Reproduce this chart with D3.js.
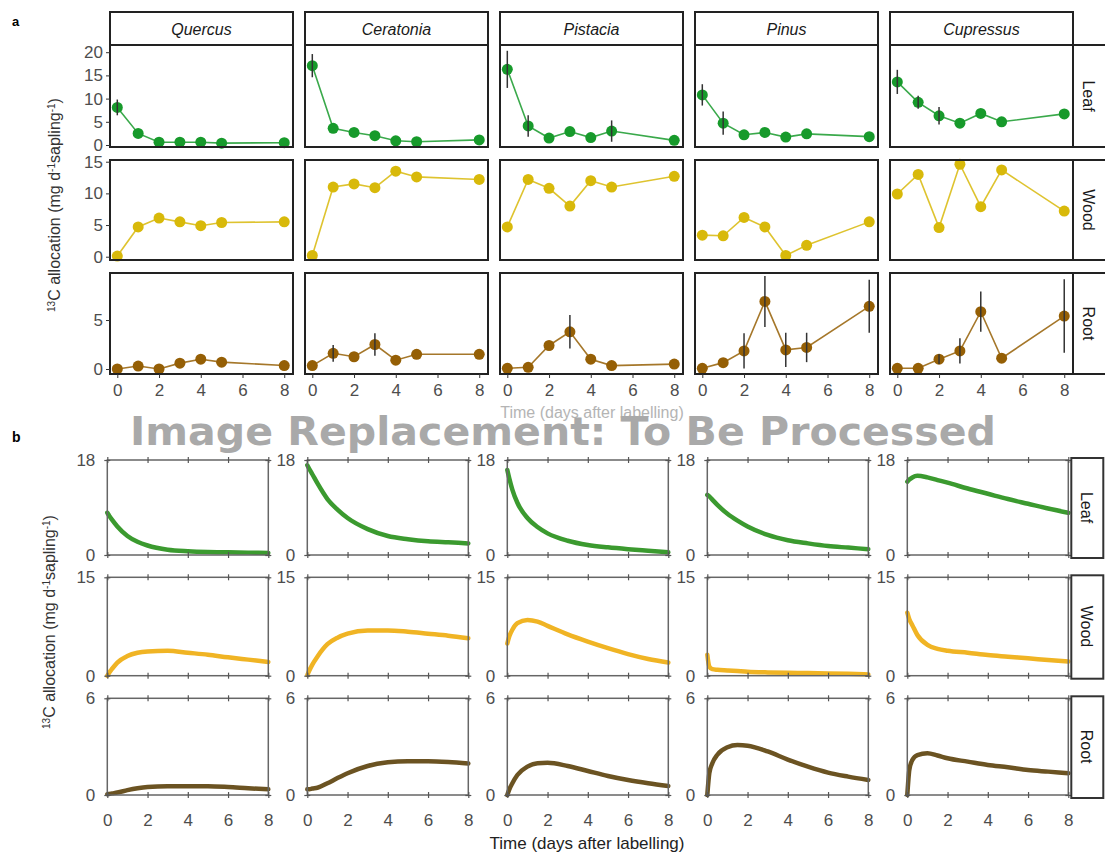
<!DOCTYPE html>
<html>
<head>
<meta charset="utf-8">
<script src="https://cdn.jsdelivr.net/npm/d3@7"></script>
<style>
  body { margin: 0; background: #fff; }
  text { font-family: "Liberation Sans", Arial, sans-serif; }
</style>
</head>
<body>
<div id="chart"></div>
<script>
// ---- data ----
const species = ["Quercus", "Ceratonia", "Pistacia", "Pinus", "Cupressus"];
const organs = ["Leaf", "Wood", "Root"];
const sampleDays = [0, 1, 2, 3, 4, 5, 8];

// panel a: measured 13C allocation (mean, error), one row per species
const leafMean = [
  [8.1, 2.5, 0.6, 0.6, 0.6, 0.4, 0.5],
  [17.1, 3.6, 2.7, 2.0, 0.9, 0.7, 1.1],
  [16.3, 4.1, 1.5, 2.9, 1.6, 3.0, 1.0],
  [10.8, 4.7, 2.2, 2.7, 1.7, 2.4, 1.8],
  [13.6, 9.2, 6.3, 4.7, 6.8, 5.0, 6.7]
];
const leafErr = [
  [1.7, 0, 0, 0, 0, 0, 0],
  [2.5, 0, 0, 0, 0, 0, 0],
  [4.0, 2.3, 0, 0, 0, 2.3, 0],
  [2.3, 2.5, 0, 0, 0, 0, 0],
  [2.6, 1.4, 1.9, 0, 0, 0, 0]
];
const woodMean = [
  [0.1, 4.7, 6.1, 5.5, 4.9, 5.4, 5.5],
  [0.2, 11.0, 11.5, 10.9, 13.5, 12.6, 12.2],
  [4.7, 12.2, 10.8, 8.0, 12.0, 11.0, 12.7],
  [3.4, 3.3, 6.2, 4.7, 0.2, 1.8, 5.5],
  [9.9, 13.0, 4.6, 14.6, 7.9, 13.7, 7.2]
];
const woodErr = [
  [0, 0, 0, 0, 0, 0, 0],
  [0, 0, 0, 0, 0, 0, 0],
  [0, 0, 0, 0, 0, 0, 0],
  [0, 0, 0, 0, 0, 0, 0],
  [0, 0, 0, 0, 0, 0, 0]
];
const rootMean = [
  [0.0, 0.3, 0.0, 0.6, 1.0, 0.7, 0.35],
  [0.35, 1.6, 1.25, 2.5, 0.9, 1.5, 1.5],
  [0.07, 0.17, 2.4, 3.8, 1.0, 0.35, 0.5],
  [0.07, 0.65, 1.85, 6.9, 1.95, 2.2, 6.4],
  [0.07, 0.07, 1.0, 1.85, 5.85, 1.1, 5.4]
];
const rootErr = [
  [0, 0, 0, 0, 0, 0, 0],
  [0, 0.85, 0, 1.15, 0, 0, 0],
  [0, 0, 0, 1.7, 0, 0, 0],
  [0, 0, 1.8, 2.6, 1.75, 1.5, 2.7],
  [0, 0, 0.5, 1.3, 2.05, 0, 3.75]
];

// panel b: modelled 13C allocation
const modelTimes = [0, 0.1, 0.25, 0.5, 1, 1.5, 2, 3, 4, 5, 6, 7, 8];
const modelLeaf = [
  [8.0, 7.4, 6.6, 5.4, 3.6, 2.5, 1.8, 1.0, 0.7, 0.55, 0.5, 0.45, 0.4],
  [17.0, 16.3, 15.3, 13.6, 10.6, 8.6, 7.0, 4.9, 3.6, 3.0, 2.6, 2.4, 2.2],
  [16.1, 14.5, 12.4, 9.9, 7.0, 5.3, 4.1, 2.7, 1.9, 1.45, 1.1, 0.8, 0.5],
  [11.4, 11.1, 10.5, 9.5, 7.8, 6.5, 5.4, 3.8, 2.8, 2.2, 1.7, 1.4, 1.1],
  [13.9, 14.3, 14.7, 15.0, 14.7, 14.2, 13.7, 12.6, 11.6, 10.6, 9.7, 8.8, 8.0]
];
const modelWood = [
  [0.0, 0.5, 1.1, 2.0, 3.0, 3.5, 3.7, 3.8, 3.5, 3.2, 2.8, 2.45, 2.1],
  [0.1, 0.8, 1.7, 2.9, 4.8, 5.8, 6.4, 6.9, 6.9, 6.7, 6.4, 6.1, 5.7],
  [4.9, 6.0, 7.0, 8.0, 8.5, 8.25, 7.6, 6.3, 5.2, 4.2, 3.3, 2.55, 2.0],
  [3.2, 1.4, 1.0, 0.9, 0.8, 0.7, 0.6, 0.5, 0.45, 0.4, 0.35, 0.3, 0.2],
  [9.6, 8.6, 7.7, 6.2, 4.7, 4.1, 3.8, 3.5, 3.15, 2.9, 2.65, 2.4, 2.15]
];
const modelRoot = [
  [0.05, 0.07, 0.1, 0.15, 0.3, 0.42, 0.5, 0.55, 0.55, 0.55, 0.5, 0.42, 0.35],
  [0.35, 0.36, 0.4, 0.45, 0.73, 1.05, 1.35, 1.8, 2.03, 2.1, 2.1, 2.05, 1.95],
  [0.0, 0.35, 0.73, 1.24, 1.76, 1.97, 2.0, 1.8, 1.49, 1.18, 0.93, 0.73, 0.56],
  [0.0, 1.35, 1.97, 2.5, 2.96, 3.1, 3.06, 2.7, 2.2, 1.76, 1.39, 1.14, 0.93],
  [0.0, 1.55, 2.17, 2.48, 2.59, 2.45, 2.28, 2.07, 1.86, 1.72, 1.55, 1.45, 1.35]
];

const aYTicks = [[0, 5, 10, 15, 20], [0, 5, 10, 15], [0, 5]];
const aYDomain = [[-0.43, 21.55], [-0.52, 15.27], [-0.51, 9.8]];
const bYMax = [18, 15, 6];
const xTicks = [0, 2, 4, 6, 8];

const measured = [[leafMean, leafErr], [woodMean, woodErr], [rootMean, rootErr]];
const modelled = [modelLeaf, modelWood, modelRoot];

// ---- layout / style ----
const W = 1105, H = 854;
const pointCol = ["#179a2b", "#d8b90a", "#955f05"];
const curveCol = ["#3b9a2f", "#f0b424", "#6b5322"];
const textGray = "#4d4d4d";
const supTxt = s => `<tspan baseline-shift='super' font-size='10px'>${s}</tspan>`;
const yTitle = `${supTxt("13")}C allocation (mg d${supTxt("-1")}sapling${supTxt("-1")})`;

const a = { left: 110, step: 195, width: 183, stripTop: 12, stripH: 33,
            rowTop: [45, 160, 273], rowH: [102, 100, 101] };
const b = { left: 107.3, step: 200, width: 161,
            rowTop: [460, 577.3, 698.3], rowH: [95, 98.4, 96.7] };

const svg = d3.select("#chart").append("svg")
  .attr("width", W).attr("height", H);

function styleTickText(sel) {
  sel.selectAll("text").style("font-size", "17px").style("fill", textGray)
    .style("font-family", "'Liberation Sans', Arial, sans-serif");
}

// ---- panel a ----
const ga = svg.append("g");
const xa = d3.scaleLinear().domain([-0.35, 8.42]).range([0, a.width]);

species.forEach((sp, c) => {
  const x0 = a.left + c * a.step;
  ga.append("rect")
    .attr("x", x0).attr("y", a.stripTop)
    .attr("width", a.width).attr("height", a.stripH)
    .attr("fill", "#fff").attr("stroke", "#222").attr("stroke-width", 2);
  ga.append("text")
    .attr("x", x0 + a.width / 2).attr("y", a.stripTop + a.stripH / 2 + 6)
    .attr("text-anchor", "middle")
    .style("font-size", "16px").style("font-style", "italic").style("fill", "#1a1a1a")
    .text(sp);
});

organs.forEach((org, r) => {
  const y = d3.scaleLinear().domain(aYDomain[r]).range([a.rowTop[r] + a.rowH[r], a.rowTop[r]]);
  const [means, errs] = measured[r];

  // right-hand strip
  ga.append("rect")
    .attr("x", a.left + 4 * a.step + a.width).attr("y", a.rowTop[r])
    .attr("width", 36).attr("height", a.rowH[r])
    .attr("fill", "#fff").attr("stroke", "#222").attr("stroke-width", 2);
  const sx = a.left + 4 * a.step + a.width + 16, sy = a.rowTop[r] + a.rowH[r] / 2;
  ga.append("text")
    .attr("transform", `translate(${sx},${sy}) rotate(90)`)
    .attr("text-anchor", "middle").attr("dy", "0.35em")
    .style("font-size", "16px").style("fill", "#1a1a1a")
    .text(org);

  species.forEach((sp, c) => {
    const x0 = a.left + c * a.step;
    const g = ga.append("g").attr("transform", `translate(${x0},0)`);
    const pts = sampleDays.map((d, i) => ({ d, v: means[c][i], e: errs[c][i] }));

    g.append("path")
      .datum(pts)
      .attr("fill", "none").attr("stroke", pointCol[r]).attr("stroke-width", 1.6)
      .attr("opacity", 0.85)
      .attr("d", d3.line().x(p => xa(p.d)).y(p => y(p.v)));

    g.selectAll(".pt").data(pts).join("circle")
      .attr("cx", p => xa(p.d)).attr("cy", p => y(p.v)).attr("r", 5.5)
      .attr("fill", pointCol[r]);

    g.selectAll(".eb").data(pts.filter(p => p.e > 0)).join("line")
      .attr("x1", p => xa(p.d)).attr("x2", p => xa(p.d))
      .attr("y1", p => y(p.v - p.e)).attr("y2", p => y(p.v + p.e))
      .attr("stroke", "#333").attr("stroke-width", 1.5);

    g.append("rect")
      .attr("x", 0).attr("y", a.rowTop[r])
      .attr("width", a.width).attr("height", a.rowH[r])
      .attr("fill", "none").attr("stroke", "#222").attr("stroke-width", 2);

    if (c === 0) {
      const ax = g.append("g").call(d3.axisLeft(y).tickValues(aYTicks[r]).tickSize(4).tickPadding(3));
      ax.select(".domain").remove();
      ax.selectAll("line").attr("stroke", "#333");
      styleTickText(ax);
    }
    if (r === 2) {
      const ax = g.append("g")
        .attr("transform", `translate(0,${a.rowTop[r] + a.rowH[r]})`)
        .call(d3.axisBottom(xa).tickValues(xTicks).tickSize(4).tickPadding(6));
      ax.select(".domain").remove();
      ax.selectAll("line").attr("stroke", "#333");
      styleTickText(ax);
    }
  });
});

ga.append("text")
  .attr("transform", "translate(60,205) rotate(-90)")
  .attr("text-anchor", "middle")
  .style("font-size", "16px").style("fill", "#333")
  .html(yTitle);

ga.append("text")
  .attr("x", 592).attr("y", 418).attr("text-anchor", "middle")
  .style("font-size", "16px").style("fill", "#b4b4b4")
  .text("Time (days after labelling)");

svg.append("text").attr("x", 12).attr("y", 26)
  .style("font-size", "13px").style("font-weight", "bold").text("a");
svg.append("text").attr("x", 12).attr("y", 442)
  .style("font-size", "14px").style("font-weight", "bold").text("b");

// ---- panel b ----
const gb = svg.append("g");
const xb = d3.scaleLinear().domain([0, 8]).range([0, b.width]);

organs.forEach((org, r) => {
  const top = b.rowTop[r], h = b.rowH[r];
  const y = d3.scaleLinear().domain([0, bYMax[r]]).range([top + h, top]);

  species.forEach((sp, c) => {
    const x0 = b.left + c * b.step;
    const g = gb.append("g").attr("transform", `translate(${x0},0)`);
    const pts = modelTimes.map((t, i) => ({ t, v: modelled[r][c][i] }));

    g.append("path")
      .datum(pts)
      .attr("fill", "none").attr("stroke", curveCol[r]).attr("stroke-width", 4.5)
      .attr("stroke-linecap", "round")
      .attr("d", d3.line().curve(d3.curveMonotoneX).x(p => xb(p.t)).y(p => y(p.v)));

    g.append("rect")
      .attr("x", 0).attr("y", top).attr("width", b.width).attr("height", h)
      .attr("fill", "none").attr("stroke", "#666").attr("stroke-width", 1.5);

    // crossing ticks on all four sides
    [[d3.axisBottom, top + h], [d3.axisTop, top]].forEach(([axisFn, yy]) => {
      [3, -3].forEach(sz => {
        const ax = g.append("g").attr("transform", `translate(0,${yy})`)
          .call(axisFn(xb).tickValues(xTicks).tickSize(sz).tickFormat(""));
        ax.select(".domain").remove();
        ax.selectAll("line").attr("stroke", "#555").attr("stroke-width", 1.2);
      });
    });
    [[d3.axisLeft, 0], [d3.axisRight, b.width]].forEach(([axisFn, xx]) => {
      [3, -3].forEach(sz => {
        const ax = g.append("g").attr("transform", `translate(${xx},0)`)
          .call(axisFn(y).tickValues([0, bYMax[r]]).tickSize(sz).tickFormat(""));
        ax.select(".domain").remove();
        ax.selectAll("line").attr("stroke", "#555").attr("stroke-width", 1.2);
      });
    });

    const ay = g.append("g")
      .call(d3.axisLeft(y).tickValues([0, bYMax[r]]).tickFormat(d3.format("d"))
        .tickSize(0).tickPadding(12));
    ay.select(".domain").remove();
    styleTickText(ay);

    if (r === 2) {
      const ax = g.append("g").attr("transform", `translate(0,${top + h})`)
        .call(d3.axisBottom(xb).tickValues(xTicks).tickSize(0).tickPadding(19));
      ax.select(".domain").remove();
      styleTickText(ax);
    }
  });

  // right-hand strip
  const sx0 = b.left + 4 * b.step + b.width + 3;
  gb.append("rect")
    .attr("x", sx0).attr("y", top - 2).attr("width", 32).attr("height", h + 5)
    .attr("fill", "#fff").attr("stroke", "#333").attr("stroke-width", 2);
  gb.append("text")
    .attr("transform", `translate(${sx0 + 15},${top + h / 2}) rotate(90)`)
    .attr("text-anchor", "middle").attr("dy", "0.35em")
    .style("font-size", "16px").style("fill", "#1a1a1a")
    .text(org);
});

gb.append("text")
  .attr("transform", "translate(55,622) rotate(-90)")
  .attr("text-anchor", "middle")
  .style("font-size", "16px").style("fill", "#333")
  .html(yTitle);

gb.append("text")
  .attr("x", 587).attr("y", 849).attr("text-anchor", "middle")
  .style("font-size", "17px").style("fill", "#222")
  .text("Time (days after labelling)");

// overlay banner present in the reference image
svg.append("text")
  .attr("x", 563).attr("y", 445).attr("text-anchor", "middle")
  .attr("textLength", 866).attr("lengthAdjust", "spacingAndGlyphs")
  .style("font-family", "'DejaVu Sans', sans-serif")
  .style("font-size", "39px").style("font-weight", "bold").style("fill", "#a9a9a9")
  .text("Image Replacement: To Be Processed");
</script>
</body>
</html>
